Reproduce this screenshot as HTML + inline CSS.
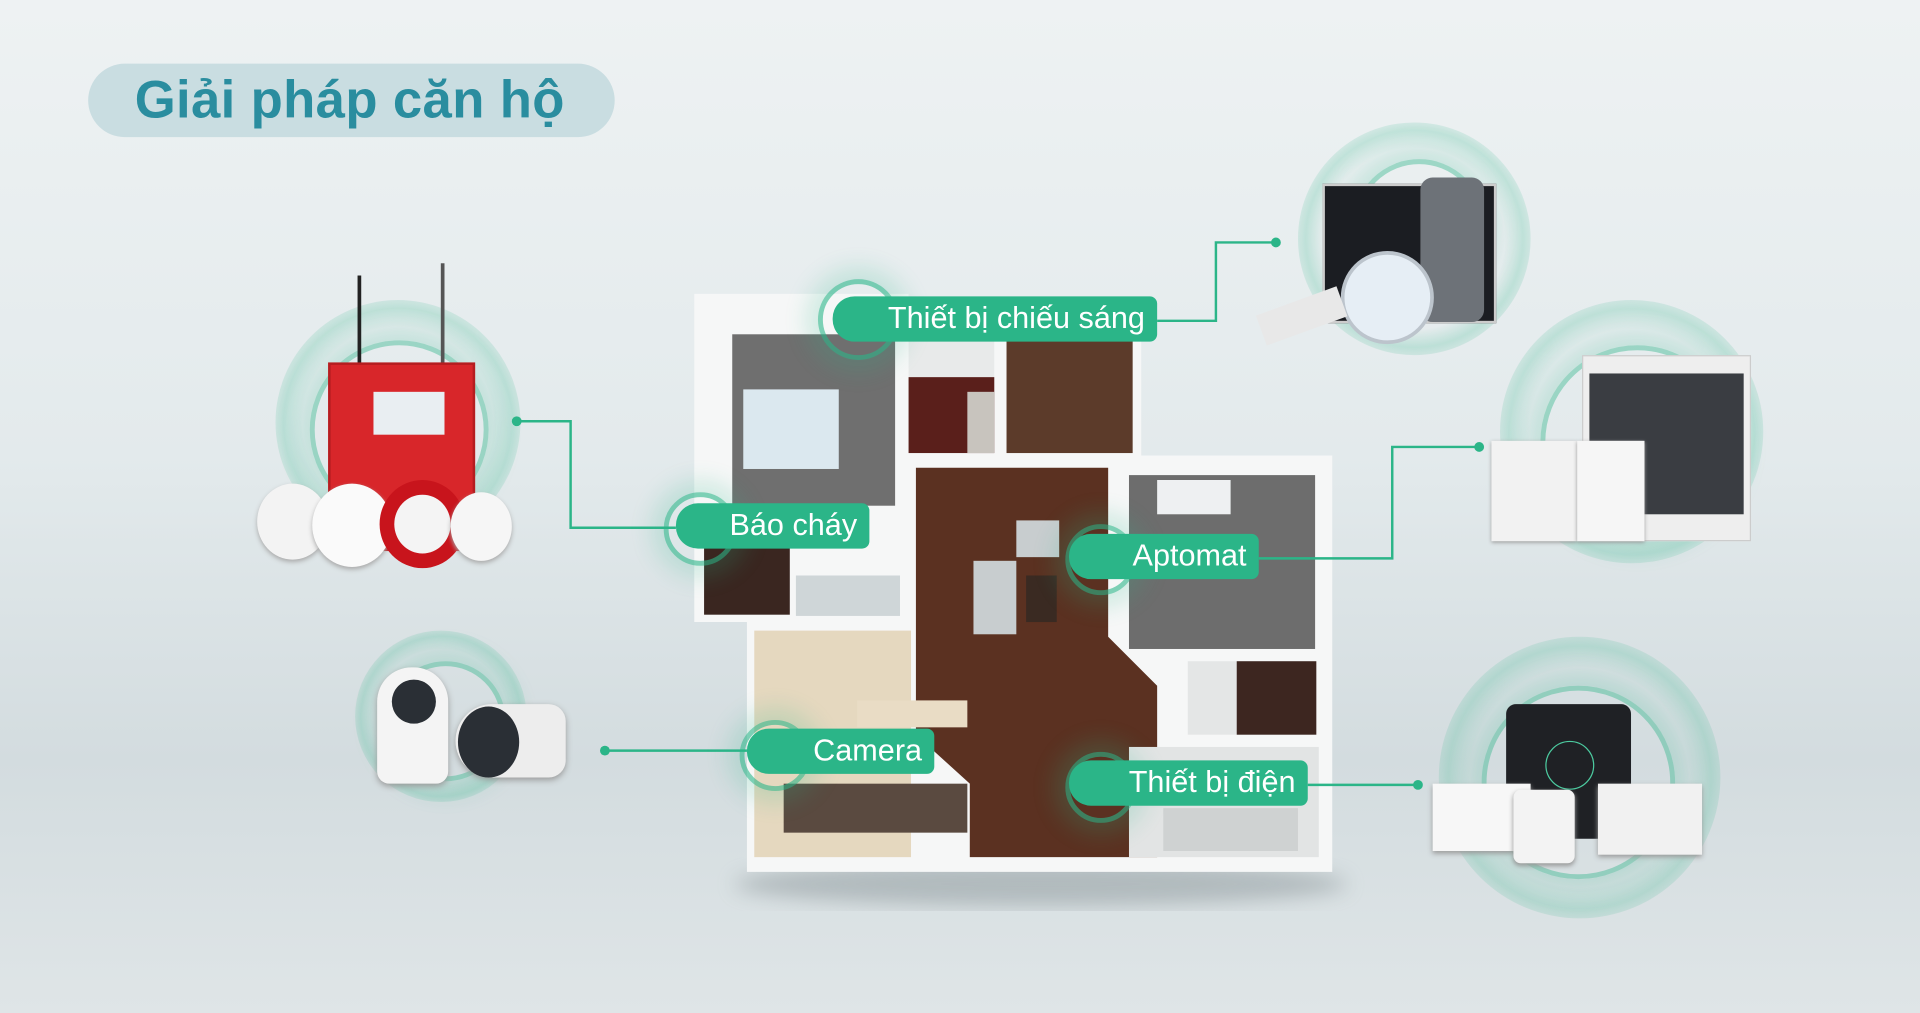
<!DOCTYPE html>
<html><head><meta charset="utf-8">
<style>
html,body{margin:0;padding:0;width:1920px;height:1013px;overflow:hidden;}
body{background:linear-gradient(180deg,#eef2f3 0%,#e3eaec 45%,#d3dcdf 75%,#dfe5e7 100%);}
#w{position:absolute;left:0;top:0;width:1568px;height:827px;transform:scale(1.22449);transform-origin:0 0;font-family:"Liberation Sans",sans-serif;}
.a{position:absolute;}
.title{left:72px;top:52px;width:430px;height:60px;border-radius:30px;background:#c9dde1;}
.title span{position:absolute;left:38px;top:6px;font-size:43px;font-weight:bold;color:#2a8d9f;letter-spacing:0.3px;}
.lab{position:absolute;height:37px;background:#2bb588;border-radius:18px 6px 6px 18px;color:#fff;font-size:25px;line-height:37px;text-align:right;padding-right:10px;box-sizing:border-box;}
.ring{position:absolute;border-radius:50%;border:4px solid rgba(43,181,136,.6);box-shadow:0 0 18px 10px rgba(43,181,136,.18);}
.glow{position:absolute;border-radius:50%;background:radial-gradient(circle,rgba(255,255,255,0) 55%,rgba(43,181,136,.22) 66%,rgba(43,181,136,0) 78%);}
.dot{position:absolute;width:8px;height:8px;border-radius:50%;background:#2bb588;}
</style></head><body><div id="w">

<div class="a title"><span>Giải pháp căn hộ</span></div>

<div class="glow" style="left:225px;top:245px;width:200px;height:200px"></div>
<div class="ring" style="left:253px;top:278px;width:138px;height:138px;border-color:rgba(43,181,136,.4)"></div>
<div class="glow" style="left:1060px;top:100px;width:190px;height:190px"></div>
<div class="ring" style="left:1105px;top:130px;width:100px;height:100px;border-color:rgba(43,181,136,.4)"></div>
<div class="glow" style="left:1225px;top:245px;width:215px;height:215px"></div>
<div class="ring" style="left:1258px;top:282px;width:150px;height:150px;border-color:rgba(43,181,136,.4)"></div>
<div class="glow" style="left:290px;top:515px;width:140px;height:140px"></div>
<div class="ring" style="left:315px;top:540px;width:90px;height:90px;border-color:rgba(43,181,136,.4)"></div>
<div class="glow" style="left:1175px;top:520px;width:230px;height:230px"></div>
<div class="ring" style="left:1210px;top:560px;width:150px;height:150px;border-color:rgba(43,181,136,.4)"></div>

<svg class="a" style="left:0;top:0" width="1568" height="827">
<defs><filter id="sh"><feGaussianBlur stdDeviation="8"/></filter></defs>
<ellipse cx="850" cy="722" rx="250" ry="18" fill="#8a9498" opacity=".5" filter="url(#sh)"/>
<polygon points="567,240 742,240 742,268 932,268 932,372 1088,372 1088,712 610,712 610,508 567,508" fill="#f6f7f7"/>
<rect x="598" y="273" width="133" height="140" fill="#6f6f6f"/>
<rect x="575" y="412" width="70" height="90" fill="#3a2620"/>
<rect x="650" y="470" width="85" height="33" fill="#cfd6d8"/>
<rect x="742" y="278" width="70" height="30" fill="#e8eaea"/>
<rect x="742" y="308" width="70" height="62" fill="#5a1f1b"/>
<rect x="790" y="320" width="22" height="50" fill="#c8c4be"/>
<rect x="822" y="278" width="103" height="92" fill="#5c3b2a"/>
<polygon points="748,382 905,382 905,520 945,560 945,700 792,700 792,640 748,600" fill="#5b3121"/>
<rect x="616" y="515" width="128" height="185" fill="#e5d8bf"/>
<rect x="640" y="640" width="150" height="40" fill="#5a4a40"/>
<rect x="700" y="572" width="90" height="22" fill="#e9dcc5"/>
<rect x="922" y="388" width="152" height="142" fill="#6d6d6d"/>
<rect x="970" y="540" width="100" height="60" fill="#e4e6e6"/>
<rect x="1010" y="540" width="65" height="60" fill="#3d2620"/>
<rect x="922" y="610" width="155" height="90" fill="#e2e4e4"/>
<rect x="950" y="660" width="110" height="35" fill="#cfd2d2"/>
<rect x="607" y="318" width="78" height="65" fill="#dbe8ef"/>
<rect x="945" y="392" width="60" height="28" fill="#eef0f2"/>
<rect x="795" y="458" width="35" height="60" fill="#c8cdcf"/>
<rect x="830" y="425" width="35" height="30" fill="#c8cdcf"/>
<rect x="838" y="470" width="25" height="38" fill="#3a2a22"/>
<g stroke="#2bb588" stroke-width="2" fill="none">
<polyline points="945,262 993,262 993,198 1042,198"/>
<polyline points="422,344 466,344 466,431 552,431"/>
<polyline points="1028,456 1137,456 1137,365 1208,365"/>
<polyline points="494,613 610,613"/>
<polyline points="1068,641 1158,641"/>
</g>
</svg>
<div class="dot" style="left:1038px;top:194px"></div>
<div class="dot" style="left:418px;top:340px"></div>
<div class="dot" style="left:1204px;top:361px"></div>
<div class="dot" style="left:490px;top:609px"></div>
<div class="dot" style="left:1154px;top:637px"></div>

<div class="ring" style="left:668px;top:228px;width:58px;height:58px"></div>
<div class="ring" style="left:542px;top:402px;width:52px;height:52px"></div>
<div class="ring" style="left:870px;top:428px;width:50px;height:50px"></div>
<div class="ring" style="left:604px;top:588px;width:50px;height:50px"></div>
<div class="ring" style="left:870px;top:614px;width:50px;height:50px"></div>

<div class="lab" style="left:680px;top:242px;width:265px">Thiết bị chiếu sáng</div>
<div class="lab" style="left:552px;top:411px;width:158px">Báo cháy</div>
<div class="lab" style="left:873px;top:436px;width:155px">Aptomat</div>
<div class="lab" style="left:610px;top:595px;width:153px">Camera</div>
<div class="lab" style="left:873px;top:621px;width:195px">Thiết bị điện</div>

<div class="a" style="left:292px;top:225px;width:3px;height:75px;background:#222"></div>
<div class="a" style="left:360px;top:215px;width:3px;height:85px;background:#555"></div>
<div class="a" style="left:268px;top:296px;width:116px;height:150px;background:#d8262a;border:2px solid #b51d20"></div>
<div class="a" style="left:305px;top:320px;width:58px;height:35px;background:#e9eef2"></div>
<div class="a" style="left:210px;top:395px;width:58px;height:62px;border-radius:50%;background:#f3f3f3;box-shadow:0 2px 4px #aaa"></div>
<div class="a" style="left:255px;top:395px;width:65px;height:68px;border-radius:50%;background:#fafafa;box-shadow:0 2px 4px #aaa"></div>
<div class="a" style="left:310px;top:392px;width:70px;height:72px;border-radius:50%;background:#c8141c"></div>
<div class="a" style="left:322px;top:404px;width:46px;height:48px;border-radius:50%;background:#f4f4f4"></div>
<div class="a" style="left:368px;top:402px;width:50px;height:56px;border-radius:50%;background:#f6f6f6;box-shadow:0 2px 4px #aaa"></div>

<div class="a" style="left:1080px;top:150px;width:138px;height:110px;background:#1b1d22;border:2px solid #ccc"></div>
<div class="a" style="left:1160px;top:145px;width:52px;height:118px;border-radius:10px;background:#6d7278"></div>
<div class="a" style="left:1095px;top:205px;width:70px;height:70px;border-radius:50%;background:#e6eef5;border:3px solid #bcc4cc"></div>
<div class="a" style="left:1028px;top:245px;width:70px;height:26px;background:#e8e8e8;transform:rotate(-20deg)"></div>

<div class="a" style="left:1292px;top:290px;width:136px;height:150px;background:#eee;border:1px solid #ccc"></div>
<div class="a" style="left:1298px;top:305px;width:126px;height:115px;background:#3a3d42"></div>
<div class="a" style="left:1218px;top:360px;width:70px;height:82px;background:#f2f2f2;box-shadow:0 1px 3px #999"></div>
<div class="a" style="left:1288px;top:360px;width:55px;height:82px;background:#f6f6f6;box-shadow:0 1px 3px #999"></div>

<div class="a" style="left:308px;top:545px;width:58px;height:95px;border-radius:28px 28px 10px 10px;background:#f4f4f4;box-shadow:0 2px 5px #999"></div>
<div class="a" style="left:320px;top:555px;width:36px;height:36px;border-radius:50%;background:#2a2f35"></div>
<div class="a" style="left:372px;top:575px;width:90px;height:60px;border-radius:30px 14px 14px 30px;background:#ededed;box-shadow:0 2px 5px #999"></div>
<div class="a" style="left:374px;top:577px;width:50px;height:58px;border-radius:50%;background:#2a2f35"></div>

<div class="a" style="left:1230px;top:575px;width:102px;height:110px;border-radius:8px;background:#1f2125"></div>
<div class="a" style="left:1262px;top:605px;width:38px;height:38px;border-radius:50%;border:1px solid #4ccba0"></div>
<div class="a" style="left:1170px;top:640px;width:80px;height:55px;background:#f7f7f7;box-shadow:0 2px 4px #999"></div>
<div class="a" style="left:1236px;top:645px;width:50px;height:60px;border-radius:6px;background:#f3f3f3;box-shadow:0 2px 4px #999"></div>
<div class="a" style="left:1305px;top:640px;width:85px;height:58px;background:#f1f1f1;box-shadow:0 2px 4px #999"></div>

</div></body></html>
